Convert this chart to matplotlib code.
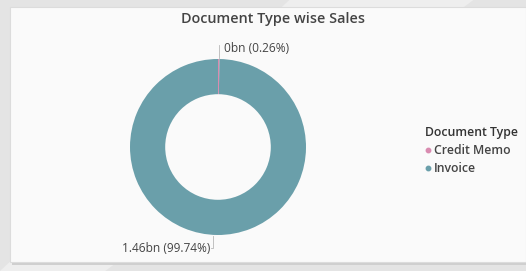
import matplotlib.pyplot as plt
from matplotlib.patches import Rectangle, Polygon
from matplotlib.lines import Line2D

plt.rcParams['font.family'] = ['Open Sans', 'DejaVu Sans']

# Données
types = ['Credit Memo', 'Invoice']
ventes = [0.0038, 1.46]          # en milliards
etiquettes = ['0bn (0.26%)', '1.46bn (99.74%)']
couleurs = ['#d98bb0', '#6a9faa']

W, H = 526, 271
fig = plt.figure(figsize=(W / 100, H / 100), dpi=100)
fig.patch.set_facecolor('#e4e4e4')

# fond avec reflets diagonaux, puis la carte blanche
fig.patches.append(Polygon([(0, 0), (0.2, 0), (0.9, 1), (0.55, 1)], closed=True,
                           transform=fig.transFigure, facecolor='#eeeeee',
                           edgecolor='none', zorder=0))
fig.patches.append(Rectangle((12 / W, 1 - 265 / H), (W - 12) / W, 257 / H,
                             transform=fig.transFigure, facecolor='#cfcfcf',
                             edgecolor='none', zorder=0.5))
fig.patches.append(Rectangle((10 / W, 1 - 262 / H), (W - 10) / W, 255 / H,
                             transform=fig.transFigure, facecolor='#fafafa',
                             edgecolor='#dcdcdc', linewidth=0.8, zorder=1))

# donut
cx, cy, r = 218, 147, 88
ax = fig.add_axes([(cx - r) / W, (H - cy - r) / H, 2 * r / W, 2 * r / H])
ax.set_zorder(2)
ax.pie(ventes, colors=couleurs, startangle=90, counterclock=False,
       radius=1, wedgeprops=dict(width=0.4, edgecolor='none'))
ax.set_xlim(-1, 1)
ax.set_ylim(-1, 1)
ax.set_aspect('equal')
ax.axis('off')

gris = '#444444'

def px(x, y):
    return x / W, 1 - y / H

# étiquettes avec traits de rappel
fig.add_artist(Line2D([px(219, 0)[0]] * 2, [px(0, 58)[1], px(0, 45)[1]],
                      color='#b8b8b8', linewidth=0.6, zorder=3))
fig.text(*px(224, 48), etiquettes[0], fontsize=8.6, color=gris,
         ha='left', va='center', zorder=3)
fig.add_artist(Line2D([px(213, 0)[0], px(213, 0)[0], px(211, 0)[0]],
                      [px(0, 236)[1], px(0, 248)[1], px(0, 248)[1]],
                      color='#b8b8b8', linewidth=0.6, zorder=3))
fig.text(*px(210, 248), etiquettes[1], fontsize=8.6, color=gris,
         ha='right', va='center', zorder=3)

# titre
fig.text(*px(273, 19), 'Document Type wise Sales', fontsize=10.4,
         fontweight='semibold', color=gris, ha='center', va='center', zorder=3)

# légende
poignees = [Line2D([], [], linestyle='none', marker='o', markersize=3.2,
                   color=c) for c in couleurs]
leg = fig.legend(poignees, types, title='Document Type', loc='upper left',
                 bbox_to_anchor=px(419, 120), frameon=False, fontsize=8.8,
                 title_fontsize=8.8, handlelength=0.45, handletextpad=0.25,
                 labelspacing=0.4, borderpad=0, alignment='left')
leg.get_title().set_fontweight('semibold')
leg.get_title().set_color('#333333')
for t in leg.get_texts():
    t.set_color(gris)
    t.set_fontweight('semibold')
leg.set_zorder(3)

fig.savefig('out.png', dpi=100)
